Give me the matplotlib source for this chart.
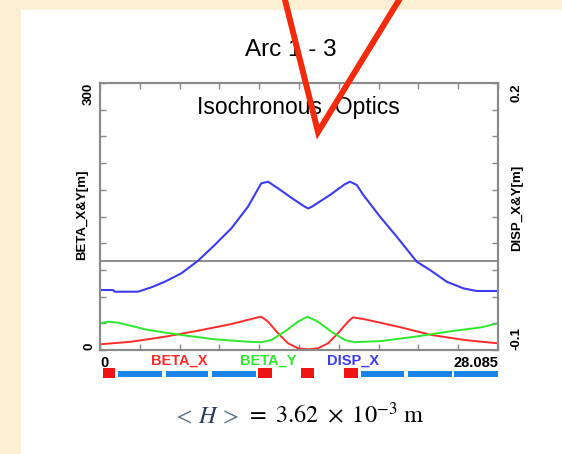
import numpy as np
import matplotlib
matplotlib.use("Agg")
import matplotlib.pyplot as plt
from matplotlib.patches import Rectangle
from matplotlib.lines import Line2D

plt.rcParams['font.family'] = ['Liberation Sans', 'DejaVu Sans']
plt.rcParams['mathtext.fontset'] = 'stix'

# ---- данные ----
s_len = 28.085

s_bx = [0, 2.21, 4.57, 6.92, 9.27, 11.15, 11.38, 11.86, 12.56, 13.27, 13.97, 14.68,
        15.38, 16.09, 16.79, 17.5, 17.85, 18.68, 21.03, 23.38, 25.74, 28.085]
beta_x = [6.4, 9.3, 14.9, 21.7, 29.2, 36.7, 37.4, 31.8, 18.8, 7.5, 1.9, 0.8,
          1.9, 7.5, 18.8, 31.8, 36.7, 34.5, 26.2, 16.9, 11.2, 7.5]

s_by = [0, 0.56, 1.27, 3.39, 5.74, 8.09, 10.44, 11.38, 12.09, 13.03, 13.97, 14.63,
        15.38, 16.32, 17.27, 17.97, 19.85, 22.21, 24.56, 26.91, 28.085]
beta_y = [30.0, 31.8, 30.7, 22.5, 16.9, 12.0, 9.3, 8.7, 11.2, 20.6, 31.8, 37.4,
          31.8, 20.6, 11.2, 8.7, 10.1, 14.9, 20.6, 25.5, 30.0]

s_dx = [0, 0.92, 1.04, 2.68, 3.62, 4.57, 5.74, 6.92, 8.09, 9.27, 10.44, 11.38, 11.86,
        12.56, 13.6, 14.4, 14.7, 15.0, 16.23, 17.3, 17.64, 18.12, 18.58, 19.76, 20.94,
        22.35, 23.29, 24.47, 25.64, 26.58, 28.085]
disp_x = [-0.0326, -0.0326, -0.0345, -0.0345, -0.0296, -0.0233, -0.0138, 0.0003,
          0.018, 0.0367, 0.061, 0.0873, 0.0891, 0.0817, 0.070, 0.0615, 0.059, 0.0615,
          0.0742, 0.0865, 0.0891, 0.0854, 0.0742, 0.0498, 0.0273, -0.0008, -0.0101,
          -0.0233, -0.0307, -0.0337, -0.0337]

# элементы решётки (начало, конец)
red_start = [0.19, 11.17, 14.18, 17.24]
red_end = [1.06, 12.11, 15.12, 18.18]
blue_start = [1.29, 4.64, 7.93, 18.42, 21.71, 25.01]
blue_end = [4.40, 7.65, 10.99, 21.48, 24.87, 28.085]

legend_names = ['BETA_X', 'BETA_Y', 'DISP_X']

# ---- цвета ----
gray = '#8a8a8a'
c_red = '#ff2a2a'
c_green = '#2ee82e'
c_blue = '#3b3bf2'

W, H = 562, 454
fig = plt.figure(figsize=(W / 100, H / 100), dpi=100)
fig.patch.set_facecolor('#fcefd2')
fig.add_artist(Rectangle((21 / W, 0), 1, 1 - 10 / H, transform=fig.transFigure,
                         facecolor='white', edgecolor='none', zorder=-10))

ax = fig.add_axes([100 / W, 1 - 350 / H, 398 / W, 267 / H])
ax.set_facecolor('white')
ax.plot(s_bx, beta_x, color=c_red, lw=1.4)
ax.plot(s_by, beta_y, color=c_green, lw=1.4)
ax.set_xlim(0, s_len)
ax.set_ylim(0, 300)

xt = np.linspace(0, s_len, 11)
ax.set_xticks(xt)
xl = ax.set_xticklabels(['0'] + [''] * 9 + ['28.085'], fontsize=10.5, fontweight='bold')
xl[0].set_ha('left')
xl[-1].set_ha('right')
yt = np.linspace(0, 300, 11)
ax.set_yticks(yt)
yl = ax.set_yticklabels(['0'] + [''] * 9 + ['300'], fontsize=9.5, fontweight='bold',
                        rotation=90)
yl[0].set_va('bottom')
yl[-1].set_va('top')
ax.tick_params(direction='in', length=4, width=1, color=gray, top=True, right=False)
ax.tick_params(axis='x', pad=4)
ax.tick_params(axis='y', pad=3.5)
for sp in ax.spines.values():
    sp.set_color(gray)
    sp.set_linewidth(1.5)
ax.set_ylabel('BETA_X&Y[m]', fontsize=9.5, fontweight='bold')
ax.yaxis.set_label_coords(-0.03, 0.506)

ax2 = ax.twinx()
ax2.axhline(0, color='#7a7a7a', lw=1.2)
ax2.plot(s_dx, disp_x, color=c_blue, lw=1.5)
ax2.set_ylim(-0.1, 0.2)
ax2.set_yticks(np.linspace(-0.1, 0.2, 11))
rl = ax2.set_yticklabels(['-0.1'] + [''] * 9 + ['0.2'], fontsize=9.5, fontweight='bold',
                         rotation=90)
rl[0].set_va('bottom')
rl[-1].set_va('top')
ax2.tick_params(direction='in', length=4, width=1, color=gray, pad=9)
for sp in ax2.spines.values():
    sp.set_color(gray)
    sp.set_linewidth(1.5)
ax2.set_ylabel('DISP_X&Y[m]', fontsize=9.5, fontweight='bold')
ax2.yaxis.set_label_coords(1.033, 0.534)

ax.text(0.499, 0.91, 'Isochronous  Optics', transform=ax.transAxes, ha='center',
        va='center', fontsize=16.5)

# подписи кривых под осью
for name, col, xf in zip(legend_names, [c_red, c_green, c_blue], [0.198, 0.422, 0.636]):
    ax.text(xf, -0.041, name, transform=ax.transAxes, ha='center', va='center',
            color=col, fontsize=10.5, fontweight='bold')

# полоса с магнитами
axm = fig.add_axes([100 / W, 1 - 378 / H, 398 / W, 10 / H])
axm.set_xlim(0, s_len)
axm.set_ylim(0, 1)
axm.axis('off')
rs, re_ = np.array(red_start), np.array(red_end)
bs, be = np.array(blue_start), np.array(blue_end)
axm.bar((bs + be) / 2, 0.6, width=be - bs, bottom=0.1, color='#1c84e8', linewidth=0)
axm.bar((rs + re_) / 2, 1.0, width=re_ - rs, bottom=0, color='#ee1414', linewidth=0)

fig.text(291 / W, 1 - 50 / H, 'Arc 1 - 3', ha='center', va='center', fontsize=17.5)

# формула внизу
fs = 17.5
t1 = fig.text(172 / W, 1 - 428 / H, r'$<$', fontsize=fs, color='#5f7386', va='bottom')
t2 = ax.annotate(r'$\ H\ $', xy=(1, 0), xycoords=t1, va='bottom', fontsize=fs,
                 color='#2a3d5a', annotation_clip=False)
t3 = ax.annotate(r'$>$', xy=(1, 0), xycoords=t2, va='bottom', fontsize=fs,
                 color='#5f7386', annotation_clip=False)
ax.annotate(r'$\ =\ 3.62\ \times\ 10^{-3}\ \mathrm{m}$', xy=(1, 0), xycoords=t3,
            va='bottom', fontsize=fs, color='black', annotation_clip=False)

# красная стрелка поверх
vx = np.array([284, 318, 401.5])
vy = np.array([-4, 132, -4])
fig.add_artist(Line2D(vx / W, 1 - vy / H, transform=fig.transFigure, color='#f52a0c',
                      lw=4.3, solid_joinstyle='miter', zorder=20))

fig.savefig('out.png', dpi=100, facecolor=fig.get_facecolor())
